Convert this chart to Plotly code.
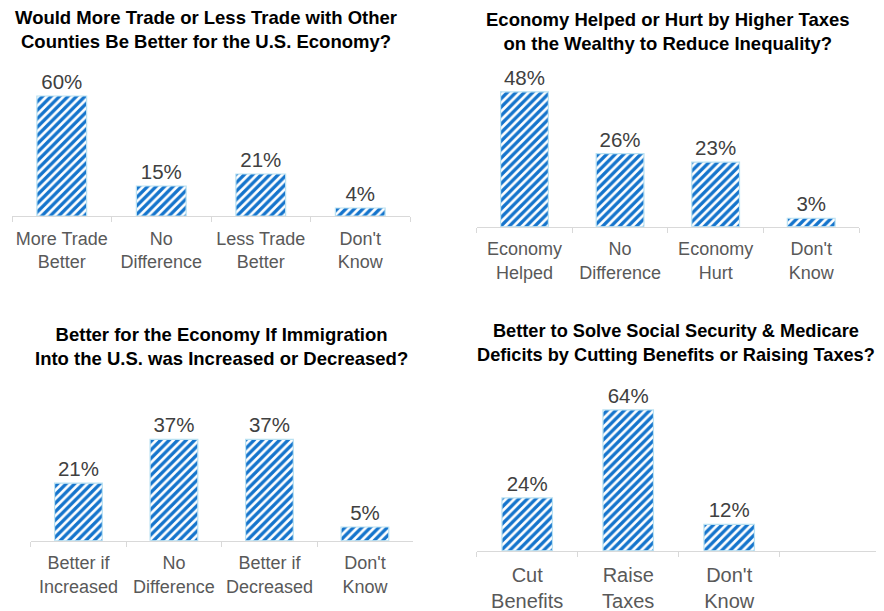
import plotly.graph_objects as go

# ---- data ----
titles = [
    "Would More Trade or Less Trade with Other<br>Counties Be Better for the U.S. Economy?",
    "Economy Helped or Hurt by Higher Taxes<br>on the Wealthy to Reduce Inequality?",
    "Better for the Economy If Immigration<br>Into the U.S. was Increased or Decreased?",
    "Better to Solve Social Security & Medicare<br>Deficits by Cutting Benefits or Raising Taxes?",
]
cats_trade = ["More Trade<br>Better", "No<br>Difference", "Less Trade<br>Better", "Don't<br>Know"]
vals_trade = [60, 15, 21, 4]
cats_tax = ["Economy<br>Helped", "No<br>Difference", "Economy<br>Hurt", "Don't<br>Know"]
vals_tax = [48, 26, 23, 3]
cats_imm = ["Better if<br>Increased", "No<br>Difference", "Better if<br>Decreased", "Don't<br>Know"]
vals_imm = [21, 37, 37, 5]
cats_ss = ["Cut<br>Benefits", "Raise<br>Taxes", "Don't<br>Know"]
vals_ss = [24, 64, 12]

W, H = 884, 611
OX, OY = 8, 8  # page body margin compensation
FONT = "Liberation Sans, Arial, sans-serif"
BLUE = "#1474cc"
EDGE = "#b9e1f2"

panels = [
    # cats, vals, x0, x1, baseline, ymax, px per %, title cx, title cy, title size, tick font, xrange
    (cats_trade, vals_trade, 12, 410, 216, 70, 2.0, 206, 29, 18.5, 18, None),
    (cats_tax, vals_tax, 476.7, 859, 226.7, 55, 2.81, 668, 31, 18.5, 18, None),
    (cats_imm, vals_imm, 30.7, 412.7, 540.7, 45, 2.74, 221.7, 346, 18.5, 18, None),
    (cats_ss, vals_ss, 476.7, 880.7, 550.7, 70, 2.2, 676, 343, 18.2, 20, [-0.5, 3.5]),
]

fig = go.Figure()
layout = dict(
    width=W, height=H, margin=dict(l=0, r=0, t=0, b=0, autoexpand=False),
    paper_bgcolor="white", plot_bgcolor="white", showlegend=False,
    annotations=[],
)

for i, (cats, vals, x0, x1, base, ymax, pxp, tx, ty, tts, tfs, xr) in enumerate(panels):
    n = i + 1
    xa = "x" if n == 1 else f"x{n}"
    ya = "y" if n == 1 else f"y{n}"
    x0 -= OX; x1 -= OX; base -= OY; tx -= OX; ty -= OY
    top_px = base - ymax * pxp
    fig.add_trace(go.Bar(
        x=cats, y=vals, xaxis=xa, yaxis=ya,
        text=[f"{v}%" for v in vals], textposition="outside",
        textfont=dict(family=FONT, size=20.5, color="#404040"),
        constraintext="none", cliponaxis=False,
        marker=dict(
            color="white",
            line=dict(color=EDGE, width=1.2),
            pattern=dict(shape="/", fgcolor=BLUE, bgcolor="white", fgopacity=1,
                         size=6, solidity=0.55),
        ),
        width=0.5, hoverinfo="skip",
    ))
    xkey = "xaxis" if n == 1 else f"xaxis{n}"
    ykey = "yaxis" if n == 1 else f"yaxis{n}"
    xd = dict(
        domain=[x0 / W, x1 / W], anchor=ya, type="category",
        showline=True, linecolor="#d9d9d9", linewidth=1,
        ticks="outside", tickson="boundaries", ticklen=5, tickcolor="#d9d9d9",
        showgrid=False, zeroline=False, automargin=False, tickangle=0,
        tickfont=dict(family=FONT, size=tfs, color="#595959"),
        ticklabelstandoff=6,
    )
    if xr is not None:
        xd["range"] = xr
    layout[xkey] = xd
    layout[ykey] = dict(
        domain=[1 - base / H, 1 - top_px / H], anchor=xa, automargin=False,
        range=[0, ymax], visible=False, showgrid=False, zeroline=False,
    )
    layout["annotations"].append(dict(
        text=f"<b>{titles[i]}</b>", xref="paper", yref="paper",
        x=tx / W, y=1 - ty / H, xanchor="center", yanchor="middle",
        showarrow=False, font=dict(family=FONT, size=tts, color="#000000"),
    ))

fig.update_layout(**layout)
fig.write_html("out.html")
